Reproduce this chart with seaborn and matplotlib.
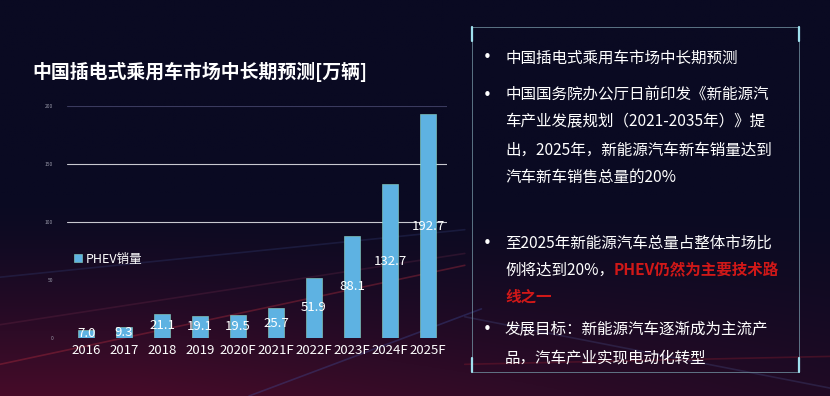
import numpy as np
import pandas as pd
import matplotlib
matplotlib.use("Agg")
import matplotlib.pyplot as plt
import seaborn as sns
from matplotlib.patches import Rectangle
from matplotlib.lines import Line2D

# 数据
years = ['2016', '2017', '2018', '2019', '2020F', '2021F', '2022F', '2023F', '2024F', '2025F']
phev_sales = [7.0, 9.3, 21.1, 19.1, 19.5, 25.7, 51.9, 88.1, 132.7, 192.7]
series_name = 'PHEV销量'
title_text = '中国插电式乘用车市场中长期预测[万辆]'

sns.set_theme(style="white")
plt.rcParams['font.family'] = ['Noto Sans CJK SC', 'DejaVu Sans']
plt.rcParams['axes.unicode_minus'] = False

df = pd.DataFrame({'year': years, 'sales': phev_sales, 'series': series_name})

fig = plt.figure(figsize=(8.3, 3.96), dpi=100)
fig.patch.set_facecolor('#0a0a22')

# 背景渐变 + 几条光线
bg = fig.add_axes([0, 0, 1, 1], zorder=-10)
gy, gx = np.mgrid[0:1:200j, 0:1:400j]
base = np.array([10, 10, 34]) / 255.0
red = np.array([80, 12, 42]) / 255.0
w = np.clip((0.5 - gy) * 1.8, 0, 1) * np.clip(1.1 - 0.6 * gx, 0, 1)
w = w ** 1.4
img = base[None, None, :] * (1 - w[..., None]) + red[None, None, :] * w[..., None]
bg.imshow(img, extent=[0, 1, 0, 1], origin='lower', aspect='auto')
for (x0, y0, x1, y1, c, a) in [
        (0.0, 0.08, 0.56, 0.33, '#c03040', 0.35),
        (0.0, 0.18, 0.56, 0.36, '#7a3050', 0.25),
        (0.0, 0.30, 0.56, 0.42, '#303a70', 0.35),
        (0.30, 0.0, 0.58, 0.22, '#4050a0', 0.35),
        (0.56, 0.20, 1.0, 0.02, '#5060a0', 0.25),
        (0.56, 0.08, 1.0, 0.10, '#a02030', 0.30)]:
    bg.plot([x0, x1], [y0, y1], color=c, alpha=a, lw=1.2)
bg.set_xlim(0, 1)
bg.set_ylim(0, 1)
bg.axis('off')

# 柱状图
ax = fig.add_axes([67 / 830, 58 / 396, 380 / 830, 232 / 396])
ax.set_facecolor('none')
sns.barplot(data=df, x='year', y='sales', hue='series', palette=['#5eb2e2'],
            saturation=1, width=0.4, edgecolor='#8fd8c0', linewidth=0.4,
            ax=ax, legend=True)
ax.set_xlim(-0.5, 9.5)
ax.set_ylim(0, 200)
ax.set_yticks([0, 50, 100, 150, 200])
ax.set_yticklabels(['0', '50', '100', '150', '200'], fontsize=3.5, color='#9a9aaa')
ax.tick_params(axis='x', colors='white', labelsize=9.5, length=0, pad=4)
ax.tick_params(axis='y', length=0, pad=10)
ax.set_xlabel('')
ax.set_ylabel('')
for s in ax.spines.values():
    s.set_visible(False)
ax.set_axisbelow(True)
ax.axhline(200, color='#3a3a5e', lw=0.8, zorder=0)
ax.axhline(150, color='#c8c8d0', lw=0.8, zorder=0)
ax.axhline(100, color='#c8c8d0', lw=0.8, zorder=0)

for cont in ax.containers:
    ax.bar_label(cont, fmt='%.1f', label_type='center', color='white', fontsize=9.5)

ax.legend(loc='center left', bbox_to_anchor=(-0.01, 0.34), frameon=False,
          fontsize=9, handlelength=0.6, handleheight=0.6, handletextpad=0.3,
          labelcolor='white')

fig.text(32 / 830, 1 - 72 / 396, title_text, color='white', fontsize=13.6,
         fontweight='bold', va='center', ha='left')

# 右侧文本框
bx0, bx1, by0, by1 = 472 / 830, 799 / 830, 1 - 372 / 396, 1 - 27 / 396
fig.add_artist(Rectangle((bx0, by0), bx1 - bx0, by1 - by0, transform=fig.transFigure,
                         fill=False, edgecolor='#6f8e9e', lw=0.7, alpha=0.8))
ch = 14 / 396
for (cx, cy, dy) in [(bx0, by1, -1), (bx1, by1, -1), (bx0, by0, 1), (bx1, by0, 1)]:
    fig.add_artist(Line2D([cx, cx], [cy, cy + dy * ch], transform=fig.transFigure,
                          color='#9fe0ee', lw=1.6))

tx = 505 / 830
bxp = 487 / 830
fs = 11.2
lines = [
    (58, True, '中国插电式乘用车市场中长期预测'),
    (95, True, '中国国务院办公厅日前印发《新能源汽'),
    (122, False, '车产业发展规划（2021-2035年）》提'),
    (150, False, '出，2025年，新能源汽车新车销量达到'),
    (177, False, '汽车新车销售总量的20%'),
    (243, True, '至2025年新能源汽车总量占整体市场比'),
    (330, True, '发展目标：新能源汽车逐渐成为主流产'),
    (358, False, '品，汽车产业实现电动化转型'),
]
for (py, bullet, txt) in lines:
    yy = 1 - py / 396
    if bullet:
        fig.text(bxp, yy, '•', color='white', fontsize=11, va='center', ha='center',
                 family=['DejaVu Sans'])
    fig.text(tx, yy, txt, color='white', fontsize=fs, va='center', ha='left')

# 红色强调
y2 = 1 - 270 / 396
t1 = fig.text(tx, y2, '例将达到20%，', color='white', fontsize=fs, va='center', ha='left')
fig.canvas.draw()
bb = t1.get_window_extent(renderer=fig.canvas.get_renderer())
x_red = bb.x1 / fig.bbox.width
fig.text(x_red, y2, 'PHEV仍然为主要技术路', color='#d01818', fontsize=fs,
         fontweight='bold', va='center', ha='left')
fig.text(tx, 1 - 297 / 396, '线之一', color='#d01818', fontsize=fs,
         fontweight='bold', va='center', ha='left')

fig.savefig('out.png', dpi=100, facecolor=fig.get_facecolor())
